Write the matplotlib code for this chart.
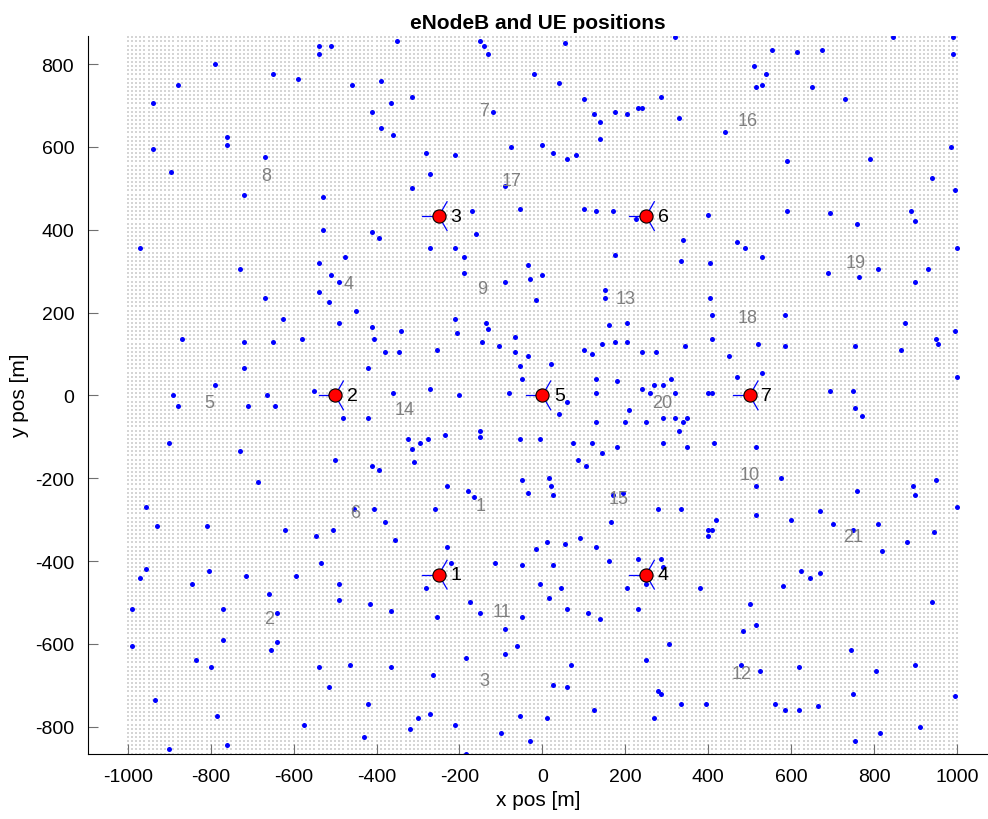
import numpy as np
import matplotlib.pyplot as plt

plt.rcParams['font.family'] = ['Liberation Sans', 'DejaVu Sans']
plt.rcParams['axes.unicode_minus'] = False

# eNodeB sites (x, y) in metres
site_x = [-250, -500, -250, 250, 0, 250, 500]
site_y = [-433, 0, 433, -433, 0, 433, 0]
site_ids = [1, 2, 3, 4, 5, 6, 7]
sector_angles = [180, 60, -60]

# cell labels and their positions
cell_ids = list(range(1, 22))
cell_x = [-148, -660, -139, -467, -804, -452, -140, -667, -144, 500,
          -98, 481, 202, -332, 185, 496, -74, 496, 756, 288, 749]
cell_y = [-267, -539, -689, 271, -16, -284, 689, 530, 257, -192,
          -522, -672, 233, -33, -250, 665, 518, 187, 322, -18, -341]

# UE positions
ue_x = [-790, -650, -590, -540, -510, -540, -460, -390, -350, -150,
        -140, -130, -20, 40, 55, 320, 510, 555, 540, 615,
        675, 845, 990, 990, -880, 650, -315, -365, -410, -120,
        100, 125, 140, 175, 205, 230, 240, 285, 330, 440,
        515, 530, 730, -760, -390, -360, -940, -760, -940, -670,
        -895, -280, -210, -75, 0, 25, 60, 80, 140, 590,
        790, 985, -315, -270, -90, -720, -530, -55, 100, 130,
        170, 225, 400, 590, 695, 760, 890, 900, 995, 940,
        -530, -410, -395, 340, 470, 490, 530, -170, -160, -270,
        -210, -190, -970, -730, -540, -540, -475, -510, -490, -190,
        -90, -35, -30, 0, 175, 335, 405, 690, 765, 810,
        900, 930, 1000, -670, -625, -515, -490, -450, -410, -210,
        -205, -135, -130, -15, 150, 150, 205, 405, 410, 585,
        875, 950, 995, -340, -870, -720, -650, -580, -405, -380,
        -345, -255, -145, -105, -65, -65, -55, -35, -50, 20,
        100, 120, 145, 160, 175, 205, 240, 275, 345, 410,
        450, 520, 585, 755, 865, 955, -720, -550, -420, -360,
        -480, -420, -890, -880, -790, -710, -665, -645, -270, -200,
        -80, 40, 60, 695, 750, 755, 770, 1000, 400, 410,
        470, 530, 130, 180, 240, 270, 290, 260, 310, 320,
        130, 210, 130, 200, 250, 290, 320, 340, 350, 330,
        120, 290, 180, 350, -900, -730, -500, -410, -395, -325,
        -315, -310, -295, -275, -235, -150, -150, -5, 75, 105,
        145, 415, 515, -685, 85, -55, -955, -930, -810, -620,
        -455, -405, -380, -545, -505, -180, -165, -50, -35, 20,
        25, 15, 170, 195, 280, 165, 335, 515, 575, 760,
        895, 900, 950, 1000, -260, -230, 420, 515, 600, 670,
        700, 810, 400, 410, 400, 750, 820, -955, -970, -805,
        -845, -715, -595, -535, -490, -355, -50, -15, 10, 55,
        90, 25, 130, 160, 230, 285, 290, 625, 645, 670,
        880, 945, -230, -220, -115, -280, -175, -150, -255, -990,
        -660, -640, -770, -490, -415, -365, -5, 15, 45, 60,
        110, 140, 230, 250, 205, 380, 500, 485, 515, 580,
        940, -60, -50, -90, -990, -640, -655, -770, -835, -800,
        -540, -465, -365, -265, -515, -185, -90, 70, 250, 280,
        305, 480, 525, 620, 745, 805, 900, -935, -785, -760,
        -900, -575, -430, -420, -320, -300, -270, -210, -185, -100,
        -55, -30, 10, 25, 60, 125, 270, 285, 395, 560,
        585, 620, 665, 750, 755, 995, 910, 815, 335]
ue_y = [800, 775, 765, 845, 845, 825, 750, 760, 855, 855,
        845, 825, 775, 755, 850, 865, 795, 835, 775, 830,
        835, 865, 865, 825, 750, 745, 720, 705, 685, 685,
        715, 680, 660, 685, 680, 695, 695, 720, 670, 635,
        745, 750, 715, 625, 645, 630, 705, 605, 595, 575,
        540, 585, 580, 600, 605, 585, 570, 580, 620, 565,
        570, 600, 500, 535, 505, 485, 480, 450, 450, 445,
        445, 425, 435, 445, 440, 415, 445, 420, 495, 525,
        400, 395, 380, 375, 370, 355, 335, 445, 390, 355,
        355, 335, 355, 305, 320, 250, 335, 290, 275, 295,
        275, 315, 280, 290, 340, 325, 320, 295, 285, 305,
        275, 305, 355, 235, 185, 225, 175, 205, 165, 185,
        150, 175, 160, 230, 235, 255, 175, 235, 195, 195,
        175, 135, 155, 155, 135, 130, 130, 135, 135, 105,
        105, 110, 130, 120, 140, 105, 70, 95, 40, 75,
        110, 100, 125, 170, 130, 130, 105, 105, 120, 135,
        95, 125, 120, 120, 110, 125, 65, 10, 65, 5,
        -55, -55, 0, -25, 25, -25, 0, -25, 15, 0,
        5, -45, -15, 10, 10, -30, -50, 45, 5, 5,
        45, 55, 40, 35, 15, 25, 25, 5, 40, 5,
        5, -35, -65, -65, -65, -55, -55, -65, -55, -85,
        -115, -115, -125, -125, -115, -135, -155, -170, -180, -105,
        -130, -160, -115, -105, -95, -85, -100, -105, -115, -170,
        -140, -115, -125, -210, -155, -105, -270, -315, -315, -325,
        -275, -275, -305, -340, -325, -230, -245, -205, -235, -220,
        -240, -200, -240, -235, -275, -305, -275, -220, -200, -230,
        -220, -240, -205, -270, -275, -220, -300, -290, -300, -280,
        -310, -310, -325, -325, -340, -325, -375, -420, -440, -425,
        -455, -435, -435, -405, -455, -350, -410, -370, -355, -360,
        -345, -410, -365, -400, -395, -395, -415, -425, -440, -430,
        -355, -330, -365, -405, -405, -465, -500, -525, -535, -515,
        -480, -525, -515, -495, -505, -520, -455, -490, -465, -515,
        -525, -540, -515, -455, -465, -465, -505, -570, -555, -460,
        -500, -605, -535, -565, -605, -595, -615, -590, -640, -655,
        -655, -650, -655, -675, -705, -635, -625, -650, -640, -715,
        -600, -650, -665, -655, -615, -665, -650, -735, -775, -845,
        -855, -795, -825, -745, -805, -780, -770, -795, -865, -815,
        -775, -835, -780, -700, -705, -760, -780, -720, -745, -745,
        -760, -760, -750, -720, -835, -725, -800, -815, -745]

# region-of-interest grid
roi_step = 10
gx, gy = np.meshgrid(np.arange(-1000, 1001, roi_step), np.arange(-865, 866, roi_step))

fig = plt.figure(figsize=(9.88, 8.2), dpi=100)
ax = fig.add_axes([0.0891, 0.0793, 0.9109, 0.8756])

ax.plot(gx.ravel(), gy.ravel(), 's', color='#d5d5d5', markersize=2.1, mew=0, zorder=1)
ax.plot(ue_x, ue_y, 'o', color='blue', markersize=3.6, mew=0, zorder=2)

# sector boundaries around each site
L = 40
for sx, sy in zip(site_x, site_y):
  for a in sector_angles:
    ax.plot([sx, sx + L*np.cos(np.radians(a))], [sy, sy + L*np.sin(np.radians(a))],
            color='blue', lw=0.9, zorder=3)
ax.plot(site_x, site_y, 'o', color='red', markeredgecolor='black', markersize=9.5, mew=0.8, zorder=4)
for sx, sy, i in zip(site_x, site_y, site_ids):
  ax.text(sx + 28, sy, str(i), fontsize=14, va='center', ha='left', zorder=5)

for cx, cy, i in zip(cell_x, cell_y, cell_ids):
  ax.text(cx, cy, str(i), fontsize=13, color='#808080', ha='center', va='center', zorder=5)

ax.set_xlim(-1096, 1075)
ax.set_ylim(-866, 868)
ax.set_xticks(np.arange(-1000, 1001, 200))
ax.set_yticks(np.arange(-800, 801, 200))
for s in ['top', 'right']:
  ax.spines[s].set_visible(False)
ax.tick_params(direction='in', length=7, color='#707070', labelsize=14, pad=10)
ax.set_xlabel('x pos [m]', fontsize=15)
ax.set_ylabel('y pos [m]', fontsize=15)
ax.set_title('eNodeB and UE positions', fontsize=15, fontweight='bold')

fig.savefig('out.png', dpi=100)
